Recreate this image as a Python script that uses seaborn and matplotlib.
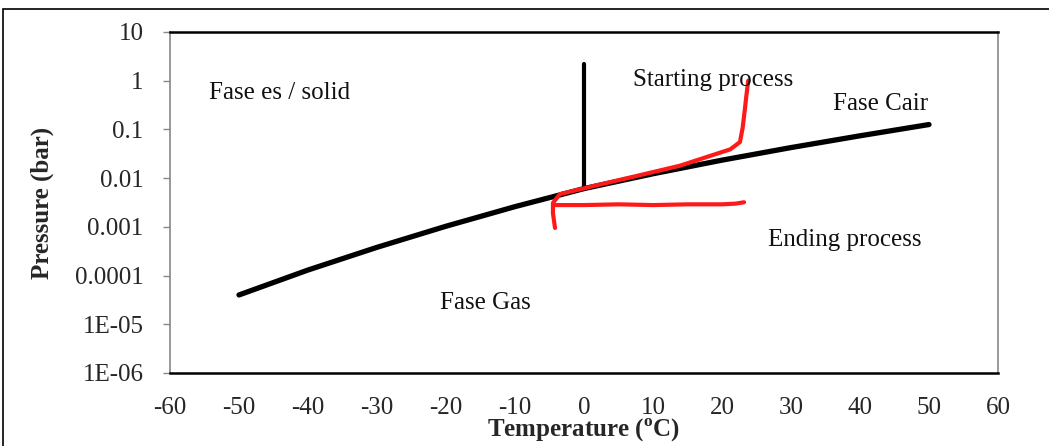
import matplotlib
matplotlib.use("Agg")
import matplotlib.pyplot as plt
import matplotlib.patches as mpatches
import seaborn as sns
import pandas as pd
import numpy as np

# ---- data ----
curve_T = [-50, -40, -30, -20, -10, 0, 10, 20, 30, 40, 50]
curve_P = [4.0e-5, 1.3e-4, 3.8e-4, 1.03e-3, 2.6e-3, 6.1e-3, 1.23e-2, 2.34e-2, 4.24e-2, 7.4e-2, 0.126]

melt_T = [0, 0]
melt_P = [2.2, 0.0062]

start_T = [23.8, 23.5, 23.3, 23.0, 22.6, 21.2, 13.9, 8.1, 2.3, -3.5, -4.5, -4.5, -4.2]
start_P = [1.0, 0.45, 0.25, 0.11, 0.055, 0.039, 0.018, 0.0115, 0.0074, 0.0047, 0.0031, 0.0019, 0.00095]

end_T = [-4.4, -3.5, 0, 5, 10, 15, 20, 22, 23.2]
end_P = [0.0028, 0.0028, 0.0028, 0.0029, 0.0028, 0.0029, 0.0029, 0.0030, 0.0032]

ytick_vals = [1e-6, 1e-5, 1e-4, 1e-3, 1e-2, 1e-1, 1, 10]
ytick_labels = ["1E-06", "1E-05", "0.0001", "0.001", "0.01", "0.1", "1", "10"]
xtick_vals = [-60, -50, -40, -30, -20, -10, 0, 10, 20, 30, 40, 50, 60]

labels = [
    ("Fase es / solid", -54.3, 0.56),
    ("Starting process", 7.1, 1.03),
    ("Fase Cair", 36.1, 0.33),
    ("Ending process", 26.7, 0.00054),
    ("Fase Gas", -20.9, 2.7e-5),
]

# ---- style ----
sns.set_style("white")
plt.rcParams["font.family"] = ["Liberation Serif", "DejaVu Serif"]
plt.rcParams["mathtext.fontset"] = "custom"
plt.rcParams["mathtext.rm"] = "Liberation Serif"
plt.rcParams["mathtext.bf"] = "Liberation Serif:bold"

fig = plt.figure(figsize=(10.49, 4.46), dpi=100)
ax = fig.add_axes([170/1049, 1-373/446, (998-170)/1049, (373-32)/446])

df_curve = pd.DataFrame({"T": curve_T, "P": curve_P})
df_melt = pd.DataFrame({"T": melt_T, "P": melt_P})
df_start = pd.DataFrame({"T": start_T, "P": start_P})
df_end = pd.DataFrame({"T": end_T, "P": end_P})

common = dict(ax=ax, sort=False, estimator=None, errorbar=None,
              solid_capstyle="round", solid_joinstyle="round")
sns.lineplot(data=df_curve, x="T", y="P", color="black", lw=3.8, **common)
sns.lineplot(data=df_melt, x="T", y="P", color="black", lw=3.0, **common)
sns.lineplot(data=df_start, x="T", y="P", color="#ff1a1a", lw=3.0, **common)
sns.lineplot(data=df_end, x="T", y="P", color="#ff1a1a", lw=3.0, **common)

ax.set_yscale("log")
ax.set_xlim(-60, 60)
ax.set_ylim(1e-6, 10)
ax.set_yticks(ytick_vals)
ax.set_yticklabels(ytick_labels)
ax.set_xticks(xtick_vals)
ax.set_xticklabels([str(v) for v in xtick_vals])
ax.yaxis.set_minor_locator(matplotlib.ticker.LogLocator(base=10, subs=np.arange(2, 10)))
ax.yaxis.set_minor_formatter(matplotlib.ticker.NullFormatter())

ax.tick_params(axis="y", which="major", direction="out", length=5, width=1,
               color="#888888", labelsize=18, pad=14, left=True)
ax.tick_params(axis="y", which="minor", direction="in", length=4, width=0.8,
               color="#999999", left=True)
ax.tick_params(axis="x", which="both", length=0, labelsize=18, pad=17)

for side in ["left", "right"]:
    ax.spines[side].set_color("#888888")
    ax.spines[side].set_linewidth(1.2)
for side in ["top", "bottom"]:
    ax.spines[side].set_color("black")
    ax.spines[side].set_linewidth(1.8)

ax.set_xlabel(r"Temperature ($^{\mathbf{o}}$C)", fontsize=18, fontweight="bold", labelpad=-1)
ax.set_ylabel("Pressure (bar)", fontsize=18, fontweight="bold", labelpad=15)

for txt, x, y in labels:
    ax.text(x, y, txt, fontsize=18, ha="left", va="center", color="#111111")

# outer frame
fig.add_artist(mpatches.Rectangle((3/1049, -0.1), 1.2, 1 - 9/446 + 0.1,
                                  transform=fig.transFigure, fill=False,
                                  lw=1.2, edgecolor="black"))

fig.savefig("out.png", dpi=100)
